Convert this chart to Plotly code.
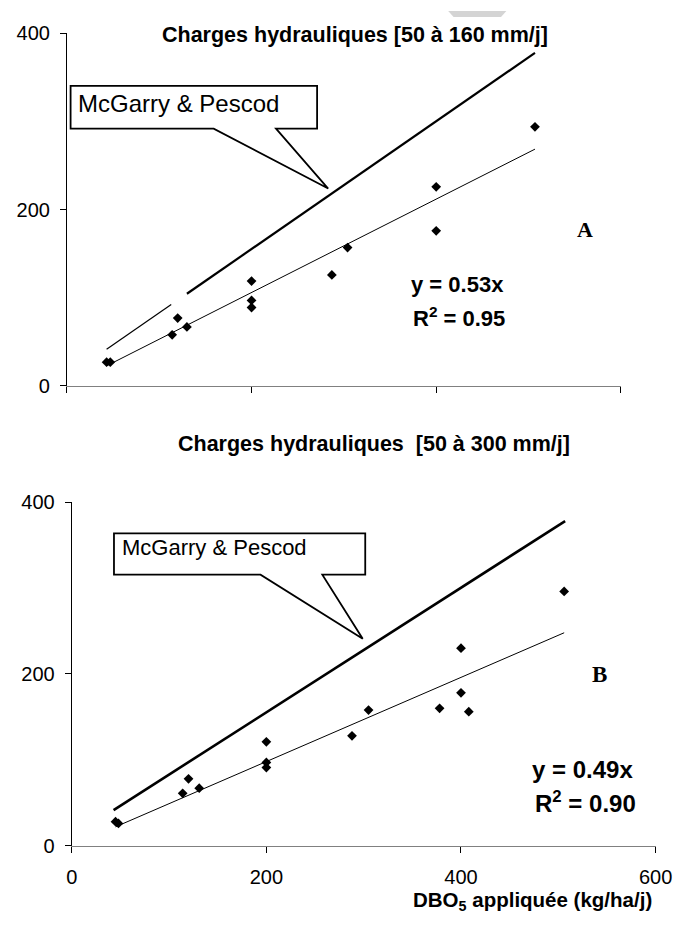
import plotly.graph_objects as go

W, H = 691, 930
FONT = "Arial, Liberation Sans, sans-serif"
SERIF = "Times New Roman, Liberation Serif, serif"

# Panel A: hydraulic loads 50-160 mm/d
a_bod_applied = [43, 47, 114, 120, 130, 200, 200, 200, 287, 304, 400, 400, 507]
a_bod_removed = [27, 27, 58, 77, 67, 119, 97, 89, 126, 157, 226, 176, 294]
a_slope = 0.53
a_r2 = 0.95

# Panel B: hydraulic loads 50-300 mm/d
b_bod_applied = [45, 48, 114, 120, 131, 200, 200, 200, 288, 305, 378, 400, 400, 408, 506]
b_bod_removed = [28, 26, 61, 78, 67, 121, 97, 91, 128, 158, 160, 230, 178, 156, 296]
b_slope = 0.49
b_r2 = 0.90

# McGarry & Pescod relation: removed = 10.35 + 0.725 * applied
mcgarry_intercept = 10.35
mcgarry_slope = 0.725
# Panel A draws the relation in two pieces (thin lower part, thick upper part)
a_mcgarry_pieces = [(43, 113, 1.2), (130, 507, 2.2)]
b_mcgarry_pieces = [(43, 507, 2.6)]

x_ticks = [0, 200, 400, 600]
y_ticks = [0, 200, 400]


def mcgarry(x):
    return mcgarry_intercept + mcgarry_slope * x


fig = go.Figure()


def add_panel(xs, ys, slope, pieces, xa, ya):
    for x0, x1, w in pieces:
        fig.add_trace(go.Scatter(
            x=[x0, x1], y=[mcgarry(x0), mcgarry(x1)], mode="lines",
            line=dict(color="black", width=w), xaxis=xa, yaxis=ya,
            showlegend=False, hoverinfo="skip"))
    lo, hi = min(xs), max(xs)
    fig.add_trace(go.Scatter(
        x=[lo, hi], y=[slope * lo, slope * hi], mode="lines",
        line=dict(color="black", width=1), xaxis=xa, yaxis=ya,
        showlegend=False, hoverinfo="skip"))
    fig.add_trace(go.Scatter(
        x=xs, y=ys, mode="markers",
        marker=dict(symbol="diamond", size=7.5, color="black"),
        xaxis=xa, yaxis=ya, showlegend=False))


add_panel(a_bod_applied, a_bod_removed, a_slope, a_mcgarry_pieces, "x", "y")
add_panel(b_bod_applied, b_bod_removed, b_slope, b_mcgarry_pieces, "x2", "y2")


def callout(xref, yref, x0, x1, y0, y1, b0, b1, tip):
    path = (f"M {x0},{y1} L {x1},{y1} L {x1},{y0} L {b1},{y0} "
            f"L {tip[0]},{tip[1]} L {b0},{y0} L {x0},{y0} Z")
    return dict(type="path", path=path, xref=xref, yref=yref,
                line=dict(color="black", width=1.8), fillcolor="white",
                layer="above")


shapes = [
    callout("x", "y", 4, 271, 292, 340.5, 159, 226.5, (283, 224)),
    callout("x2", "y2", 43.4, 301.6, 315.6, 363.6, 194, 257.5, (299, 241)),
    # light grey mark at the top edge of the page
    dict(type="path", path="M 0.662,1 L 0.749,1 L 0.741,0.9935 L 0.670,0.9935 Z",
         xref="paper", yref="paper", line=dict(width=0), fillcolor="#d4d4d4"),
]


def label(text, px, py, size, family=FONT, anchor="center"):
    return dict(text=text, x=px / W, y=1 - py / H, xref="paper", yref="paper",
                xanchor=anchor, yanchor="middle", showarrow=False,
                font=dict(family=family, size=size, color="black"))


annotations = [
    dict(text="McGarry & Pescod", x=10, y=321, xref="x", yref="y",
         xanchor="left", yanchor="middle", showarrow=False,
         font=dict(family=FONT, size=24, color="black")),
    dict(text="McGarry & Pescod", x=50, y=346.6, xref="x2", yref="y2",
         xanchor="left", yanchor="middle", showarrow=False,
         font=dict(family=FONT, size=22, color="black")),
    label("<b>Charges hydrauliques [50 à 160 mm/j]</b>", 361, 25, 21.5),
    label("<b>Charges hydrauliques  [50 à 300 mm/j]</b>", 381, 444, 21.5),
    label(f"<b>y = {a_slope:.2f}x</b>", 467, 280, 22),
    label(f"<b>R<sup>2</sup> = {a_r2:.2f}</b>", 469, 313, 22),
    label(f"<b>y = {b_slope:.2f}x</b>", 596, 777, 24),
    label(f"<b>R<sup>2</sup> = {b_r2:.2f}</b>", 599, 810, 24),
    label("<b>A</b>", 599, 224, 22, SERIF),
    label("<b>B</b>", 614, 680, 23, SERIF),
    label("<b>DBO<sub>5</sub> appliquée (kg/ha/j)</b>", 545, 912, 20.5),
]

tick_font = dict(family=FONT, size=20, color="black")
common_x = dict(range=[0, 600], tickvals=x_ticks, showline=True, linecolor="#808080",
                linewidth=1, ticks="outside", ticklen=6, tickcolor="black",
                showgrid=False, zeroline=False, tickfont=tick_font,
                ticklabelstandoff=7)
common_y = dict(range=[0, 400], tickvals=y_ticks, showline=True, linecolor="black",
                linewidth=1, ticks="outside", ticklen=6, tickcolor="black",
                showgrid=False, zeroline=False, tickfont=tick_font,
                ticklabelstandoff=6)

fig.update_layout(
    width=W, height=H,
    margin=dict(l=0, r=0, t=0, b=0),
    font=dict(family=FONT, size=20, color="black"),
    paper_bgcolor="white", plot_bgcolor="white",
    xaxis=dict(common_x, domain=[63 / W, 636 / W], anchor="y", showticklabels=False),
    yaxis=dict(common_y, domain=[1 - 384 / H, 1 - 23 / H], anchor="x"),
    xaxis2=dict(common_x, domain=[68 / W, 672 / W], anchor="y2"),
    yaxis2=dict(common_y, domain=[1 - 855 / H, 1 - 503 / H], anchor="x2"),
    shapes=shapes,
    annotations=annotations,
    showlegend=False,
)

fig.write_html("out.html")
